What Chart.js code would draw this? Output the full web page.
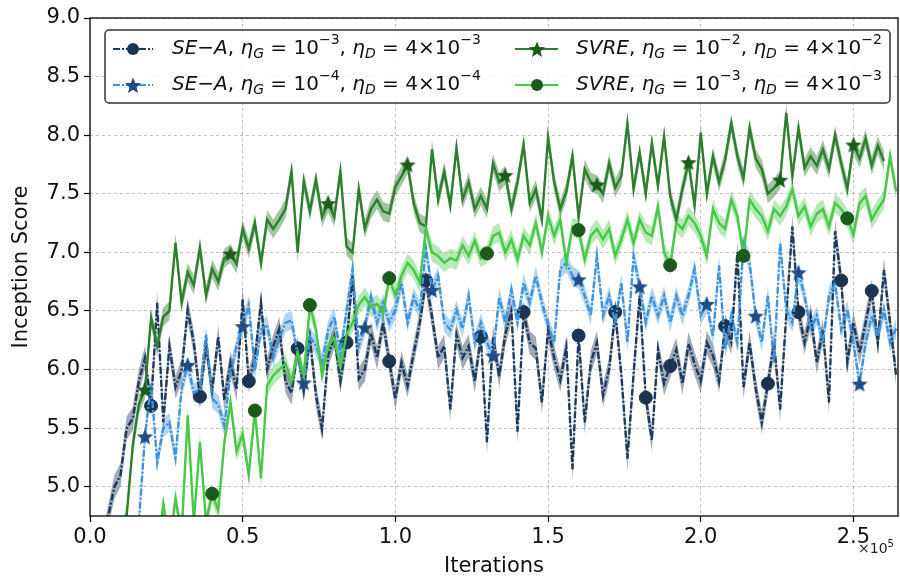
<!DOCTYPE html>
<html>
<head>
<meta charset="utf-8">
<script src="https://cdn.jsdelivr.net/npm/chart.js@4.4.1/dist/chart.umd.min.js"></script>
<style>
  html, body { margin: 0; padding: 0; background: #fff; }
  #wrap { width: 900px; height: 577px; }
</style>
</head>
<body>
<div id="wrap"><canvas id="isChart" width="900" height="577"></canvas></div>
<script>
// sampling grid of the curves (iterations)
const STEP = 2000;
const iterations = Array.from({length: 133}, (_, i) => i * STEP);

// SE-A, lr_G = 1e-3, lr_D = 4e-3
const seaG3 = [
  3.9, 4.2, 4.5, 4.75, 5.0, 5.1, 5.5, 5.58, 5.9, 6.1,
  5.69, 6.57, 5.55, 6.2, 5.85, 5.99, 6.51, 6.23, 5.77, 6.2,
  5.82, 6.28, 5.74, 6.06, 5.83, 6.6, 5.9, 6.1, 6.57, 6.0,
  6.2, 6.35, 5.9, 5.8, 6.18, 5.82, 6.27, 5.78, 5.49, 6.12,
  6.28, 5.9, 6.23, 6.8, 5.92, 6.0, 6.31, 6.1, 6.4, 6.07,
  5.75, 6.06, 5.86, 6.14, 6.4, 6.76, 6.45, 6.1, 6.2, 5.66,
  6.3, 6.1, 6.2, 5.9, 6.28, 5.38, 6.28, 5.94, 6.3, 6.5,
  5.47, 6.49, 6.23, 6.18, 5.72, 6.34, 6.1, 5.91, 6.19, 5.15,
  6.29, 5.55, 6.06, 6.23, 5.78, 6.0, 6.49, 5.96, 5.24, 5.96,
  6.63, 5.76, 5.4, 6.17, 5.88, 6.03, 6.17, 5.88, 6.22, 6.05,
  5.9, 6.23, 6.12, 5.9, 6.37, 6.23, 7.0, 5.85, 6.23, 5.84,
  5.55, 5.88, 6.23, 5.66, 6.46, 7.22, 6.49, 6.23, 6.46, 6.06,
  6.34, 5.72, 7.18, 6.76, 6.06, 6.4, 6.14, 6.4, 6.67, 6.23,
  6.85, 6.4, 5.95
];
// SE-A, lr_G = 1e-4, lr_D = 4e-4
const seaG4 = [
  3.8, 3.9, 4.0, 4.1, 4.2, 4.3, 4.4, 4.5, 4.7, 5.43,
  5.88, 5.21, 5.5, 5.55, 5.25, 5.84, 6.04, 5.8, 5.83, 6.3,
  5.75, 5.7, 5.52, 5.97, 6.2, 6.37, 6.55, 5.99, 6.34, 6.38,
  6.1, 6.26, 6.4, 6.42, 6.12, 5.89, 6.28, 6.2, 6.06, 6.34,
  6.45, 6.14, 6.5, 6.86, 6.2, 6.36, 6.62, 6.4, 6.57, 6.4,
  6.51, 6.74, 6.4, 6.62, 6.5, 7.03, 6.68, 6.8, 6.4, 6.34,
  6.51, 6.35, 6.63, 6.23, 6.4, 6.23, 6.12, 6.62, 6.4, 6.68,
  6.4, 6.74, 6.57, 6.8, 6.57, 6.38, 6.23, 6.86, 6.91, 6.8,
  6.77, 6.63, 6.46, 6.97, 6.46, 6.63, 6.4, 6.74, 6.23, 6.97,
  6.71, 6.4, 6.63, 6.46, 6.63, 6.4, 6.63, 6.46, 6.63, 6.86,
  6.46, 6.56, 6.28, 6.89, 6.17, 6.46, 6.23, 7.08, 6.91, 6.46,
  6.23, 6.63, 6.06, 7.08, 6.51, 6.4, 6.83, 6.63, 6.34, 6.46,
  6.23, 6.63, 6.74, 6.34, 6.51, 6.23, 5.88, 6.23, 6.46, 6.28,
  6.51, 6.23, 6.35
];
// SVRE, lr_G = 1e-2, lr_D = 4e-2
const svreG2 = [
  3.6, 3.8, 4.0, 4.2, 4.4, 4.55, 4.75, 5.35, 5.7, 5.83,
  6.44, 6.2, 6.45, 6.5, 7.08, 6.57, 6.83, 6.72, 7.04, 6.63,
  6.86, 6.75, 6.95, 6.99, 6.9, 7.2, 7.03, 7.25, 6.91, 7.28,
  7.2, 7.28, 7.37, 7.69, 7.0, 7.61, 7.35, 7.62, 7.3, 7.42,
  7.3, 7.69, 7.05, 7.0, 7.54, 7.2, 7.37, 7.45, 7.35, 7.33,
  7.56, 7.65, 7.75, 7.42, 7.25, 7.22, 7.88, 7.45, 7.69, 7.4,
  7.89, 7.45, 7.6, 7.37, 7.48, 7.37, 7.76, 7.6, 7.66, 7.37,
  7.6, 7.92, 7.42, 7.54, 7.28, 7.98, 7.6, 7.37, 7.52, 7.82,
  7.3, 7.71, 7.6, 7.58, 7.5, 7.76, 7.55, 7.65, 8.10, 7.54,
  7.85, 7.5, 7.93, 7.57, 7.99, 7.48, 7.28, 7.54, 7.77, 7.4,
  8.02, 7.5, 7.82, 7.6, 7.79, 8.10, 7.82, 7.63, 8.06, 7.8,
  7.71, 7.5, 7.55, 7.62, 8.19, 7.65, 8.06, 7.72, 7.82, 7.74,
  7.88, 7.71, 8.0, 7.76, 7.54, 7.92, 7.8, 7.97, 7.74, 7.91,
  7.78
];
// SVRE, lr_G = 1e-3, lr_D = 4e-3
const svreG3 = [
  3.4, 3.5, 3.6, 3.7, 3.8, 3.9, 4.0, 4.1, 4.2, 4.3,
  4.35, 4.4, 4.85, 4.5, 4.9, 4.6, 5.61, 4.7, 5.38, 4.7,
  4.94, 4.8, 5.38, 5.72, 5.3, 5.45, 5.1, 5.65, 5.07, 5.86,
  5.95, 6.0, 6.05, 5.9, 6.15, 5.95, 6.55, 6.34, 5.95, 6.2,
  6.27, 6.02, 6.3, 6.4, 6.55, 6.62, 6.53, 6.56, 6.48, 6.78,
  6.63, 6.8, 6.91, 6.85, 6.74, 7.2, 7.0, 6.97, 6.91, 6.95,
  6.93, 7.06, 6.97, 7.1, 6.95, 6.99, 7.14, 7.17, 7.0, 7.11,
  6.94, 7.14, 7.06, 7.25, 7.0, 7.31, 7.14, 7.28, 6.91, 7.22,
  7.19, 6.94, 7.14, 7.2, 7.11, 7.2, 6.97, 7.11, 7.28, 7.08,
  7.28, 7.17, 7.14, 7.39, 7.0, 6.89, 7.25, 7.2, 7.31, 7.25,
  7.14, 6.97, 7.37, 7.25, 7.2, 7.45, 7.31, 6.97, 7.45, 7.37,
  7.31, 7.18, 7.37, 7.31, 7.39, 7.54, 7.31, 7.39, 7.22, 7.33,
  7.37, 7.22, 7.42, 7.37, 7.29, 7.15, 7.42, 7.48, 7.28, 7.37,
  7.45, 7.82, 7.52
];

// sample indices carrying a marker
const seaG3Marks = [10, 18, 26, 34, 42, 49, 55, 64, 71, 80, 86, 91, 95, 104, 111, 116, 123, 128];
const seaG4Marks = [9, 16, 25, 35, 45, 56, 66, 80, 90, 101, 109, 116, 126];
const svreG2Marks = [9, 23, 39, 52, 68, 83, 98, 113, 125];
const svreG3Marks = [20, 27, 36, 49, 65, 80, 95, 107, 124];

// legend text: method, exponent of lr_G, exponent of lr_D
const legendNames = ['SE\u2212A', 'SE\u2212A', 'SVRE', 'SVRE'];
const legendExpG = ['\u22123', '\u22124', '\u22122', '\u22123'];
const legendExpD = ['\u22123', '\u22124', '\u22122', '\u22123'];

const yTickValues = [5.0, 5.5, 6.0, 6.5, 7.0, 7.5, 8.0, 8.5, 9.0];
const xTickValues = [0, 50000, 100000, 150000, 200000, 250000];

// half width of the shaded spread around each curve
const spreadSeaG3 = 0.1;
const spreadSeaG4 = 0.08;
const spreadSvreG2 = 0.08;
const spreadSvreG3 = 0.08;

const FONT = 'DejaVu Sans';
Chart.defaults.font.family = FONT;
Chart.defaults.color = '#111';

function starImage(size, color) {
  const c = document.createElement('canvas');
  c.width = size; c.height = size;
  const g = c.getContext('2d');
  const R = size / 2, r = R * 0.42;
  g.beginPath();
  for (let k = 0; k < 10; k++) {
    const rad = k % 2 ? r : R - 0.5;
    const a = -Math.PI / 2 + k * Math.PI / 5;
    const px = R + rad * Math.cos(a), py = R + 1 + rad * Math.sin(a);
    if (k) g.lineTo(px, py); else g.moveTo(px, py);
  }
  g.closePath();
  g.fillStyle = color;
  g.fill();
  return c;
}

const STAR = 18;
const styles = [
  {line: '#1d3a5c', band: 'rgba(45,68,95,0.45)', dash: [7, 2, 2, 2], mark: 'circle', markColor: '#1b3452'},
  {line: '#3d94db', band: 'rgba(61,148,219,0.40)', dash: [7, 2, 2, 2], mark: starImage(STAR, '#1f4c84'), markColor: '#1f4c84'},
  {line: '#2c7f2c', band: 'rgba(44,127,44,0.45)', dash: [], mark: starImage(STAR, '#1b5c1b'), markColor: '#1b5c1b'},
  {line: '#48c748', band: 'rgba(72,199,72,0.40)', dash: [], mark: 'circle', markColor: '#1c5a1c'}
];

function points(values, offset) {
  return values.map((v, i) => ({x: iterations[i], y: v + offset}));
}

function bandSets(values, spread, color) {
  return [
    {data: points(values, spread), borderWidth: 0, pointRadius: 0, fill: false, order: 10, clip: 0},
    {data: points(values, -spread), borderWidth: 0, pointRadius: 0, fill: '-1', backgroundColor: color, order: 10, clip: 0}
  ];
}

function lineSet(values, st, marks, order) {
  return {
    data: points(values, 0),
    borderColor: st.line,
    borderWidth: 2.4,
    borderDash: st.dash,
    tension: 0,
    fill: false,
    pointStyle: st.mark,
    pointRadius: ctx => marks.includes(ctx.dataIndex) ? 6.5 : 0,
    pointBackgroundColor: st.markColor,
    pointBorderColor: st.markColor,
    pointBorderWidth: 1,
    order: order,
    clip: 0
  };
}

const datasets = [
  ...bandSets(seaG3, spreadSeaG3, styles[0].band),
  ...bandSets(seaG4, spreadSeaG4, styles[1].band),
  ...bandSets(svreG2, spreadSvreG2, styles[2].band),
  ...bandSets(svreG3, spreadSvreG3, styles[3].band),
  lineSet(seaG3, styles[0], seaG3Marks, 4),
  lineSet(seaG4, styles[1], seaG4Marks, 3),
  lineSet(svreG2, styles[2], svreG2Marks, 2),
  lineSet(svreG3, styles[3], svreG3Marks, 1)
];

// draw a run of text pieces with sub/superscripts
function richText(ctx, x, y, parts, size) {
  const small = Math.round(size * 0.7);
  for (const p of parts) {
    const fs = p.sub || p.sup ? small : size;
    ctx.font = (p.it ? 'italic ' : '') + fs + 'px ' + FONT;
    const dy = p.sub ? size * 0.28 : p.sup ? -size * 0.42 : 0;
    ctx.fillText(p.t, x, y + dy);
    x += ctx.measureText(p.t).width;
  }
  return x;
}

function legendParts(i) {
  return [
    {t: legendNames[i], it: true}, {t: ', '}, {t: '\u03b7', it: true}, {t: 'G', it: true, sub: true},
    {t: ' = 10'}, {t: legendExpG[i], sup: true}, {t: ', '},
    {t: '\u03b7', it: true}, {t: 'D', it: true, sub: true},
    {t: ' = 4\u00d710'}, {t: legendExpD[i], sup: true}
  ];
}

const framePlugin = {
  id: 'frame',
  afterDatasetsDraw(chart) {
    const {ctx, chartArea: a} = chart;
    ctx.save();
    ctx.strokeStyle = '#000';
    ctx.lineWidth = 1.3;
    ctx.strokeRect(a.left, a.top, a.right - a.left, a.bottom - a.top);
    ctx.fillStyle = '#222';
    ctx.textBaseline = 'alphabetic';
    ctx.textAlign = 'left';
    richText(ctx, 858, 553, [{t: '\u00d710'}, {t: '5', sup: true}], 14);
    ctx.restore();
  }
};

const legendPlugin = {
  id: 'boxLegend',
  afterDraw(chart) {
    const ctx = chart.ctx;
    ctx.save();
    ctx.beginPath();
    ctx.roundRect(105, 30, 785, 73, 4);
    ctx.fillStyle = 'rgba(255,255,255,0.85)';
    ctx.fill();
    ctx.strokeStyle = '#333';
    ctx.lineWidth = 1.5;
    ctx.stroke();
    const cols = [{x0: 113, x1: 153, mx: 133, tx: 172}, {x0: 515, x1: 558, mx: 537, tx: 576}];
    const rows = [49, 85];
    const order = [[0, 0, 0], [1, 0, 1], [2, 1, 0], [3, 1, 1]];
    for (const [i, c, r] of order) {
      const col = cols[c], y = rows[r], st = styles[i];
      ctx.strokeStyle = st.line;
      ctx.lineWidth = 2;
      ctx.setLineDash(st.dash);
      ctx.beginPath();
      ctx.moveTo(col.x0, y);
      ctx.lineTo(col.x1, y);
      ctx.stroke();
      ctx.setLineDash([]);
      if (st.mark === 'circle') {
        ctx.beginPath();
        ctx.arc(col.mx, y, 6, 0, Math.PI * 2);
        ctx.fillStyle = st.markColor;
        ctx.fill();
      } else {
        ctx.drawImage(st.mark, col.mx - STAR / 2, y - STAR / 2);
      }
      ctx.fillStyle = '#111';
      ctx.textBaseline = 'middle';
      ctx.textAlign = 'left';
      richText(ctx, col.tx, y, legendParts(i), 20);
    }
    ctx.restore();
  }
};

const gridOpts = {color: 'rgba(0,0,0,0.3)', lineWidth: 0.8, tickColor: '#000', tickLength: 6, tickBorderDash: [], tickWidth: 1.2};

new Chart(document.getElementById('isChart'), {
  type: 'line',
  data: {datasets: datasets},
  options: {
    responsive: false,
    animation: false,
    events: [],
    layout: {padding: {top: 18, right: 2, left: 0, bottom: 0}},
    plugins: {legend: {display: false}, tooltip: {enabled: false}},
    scales: {
      x: {
        type: 'linear',
        min: 0,
        max: 264600,
        afterBuildTicks: s => { s.ticks = xTickValues.map(v => ({value: v})); },
        afterFit: s => { s.height = 61; },
        ticks: {callback: v => (v / 1e5).toFixed(1), font: {size: 21}, color: '#111', padding: 3, maxRotation: 0},
        grid: gridOpts,
        border: {display: false, dash: [3, 3]},
        title: {display: true, text: 'Iterations', font: {size: 21}, color: '#111', padding: {top: 0, bottom: -2}}
      },
      y: {
        type: 'linear',
        min: 4.75,
        max: 9.0,
        afterBuildTicks: s => { s.ticks = yTickValues.map(v => ({value: v})); },
        afterFit: s => { s.width = 90; },
        ticks: {callback: v => v.toFixed(1), font: {size: 21}, color: '#111', padding: 4},
        grid: gridOpts,
        border: {display: false, dash: [3, 3]},
        title: {display: true, text: 'Inception Score', font: {size: 21}, color: '#111', padding: {top: 9, bottom: 0}}
      }
    }
  },
  plugins: [framePlugin, legendPlugin]
});
</script>
</body>
</html>
